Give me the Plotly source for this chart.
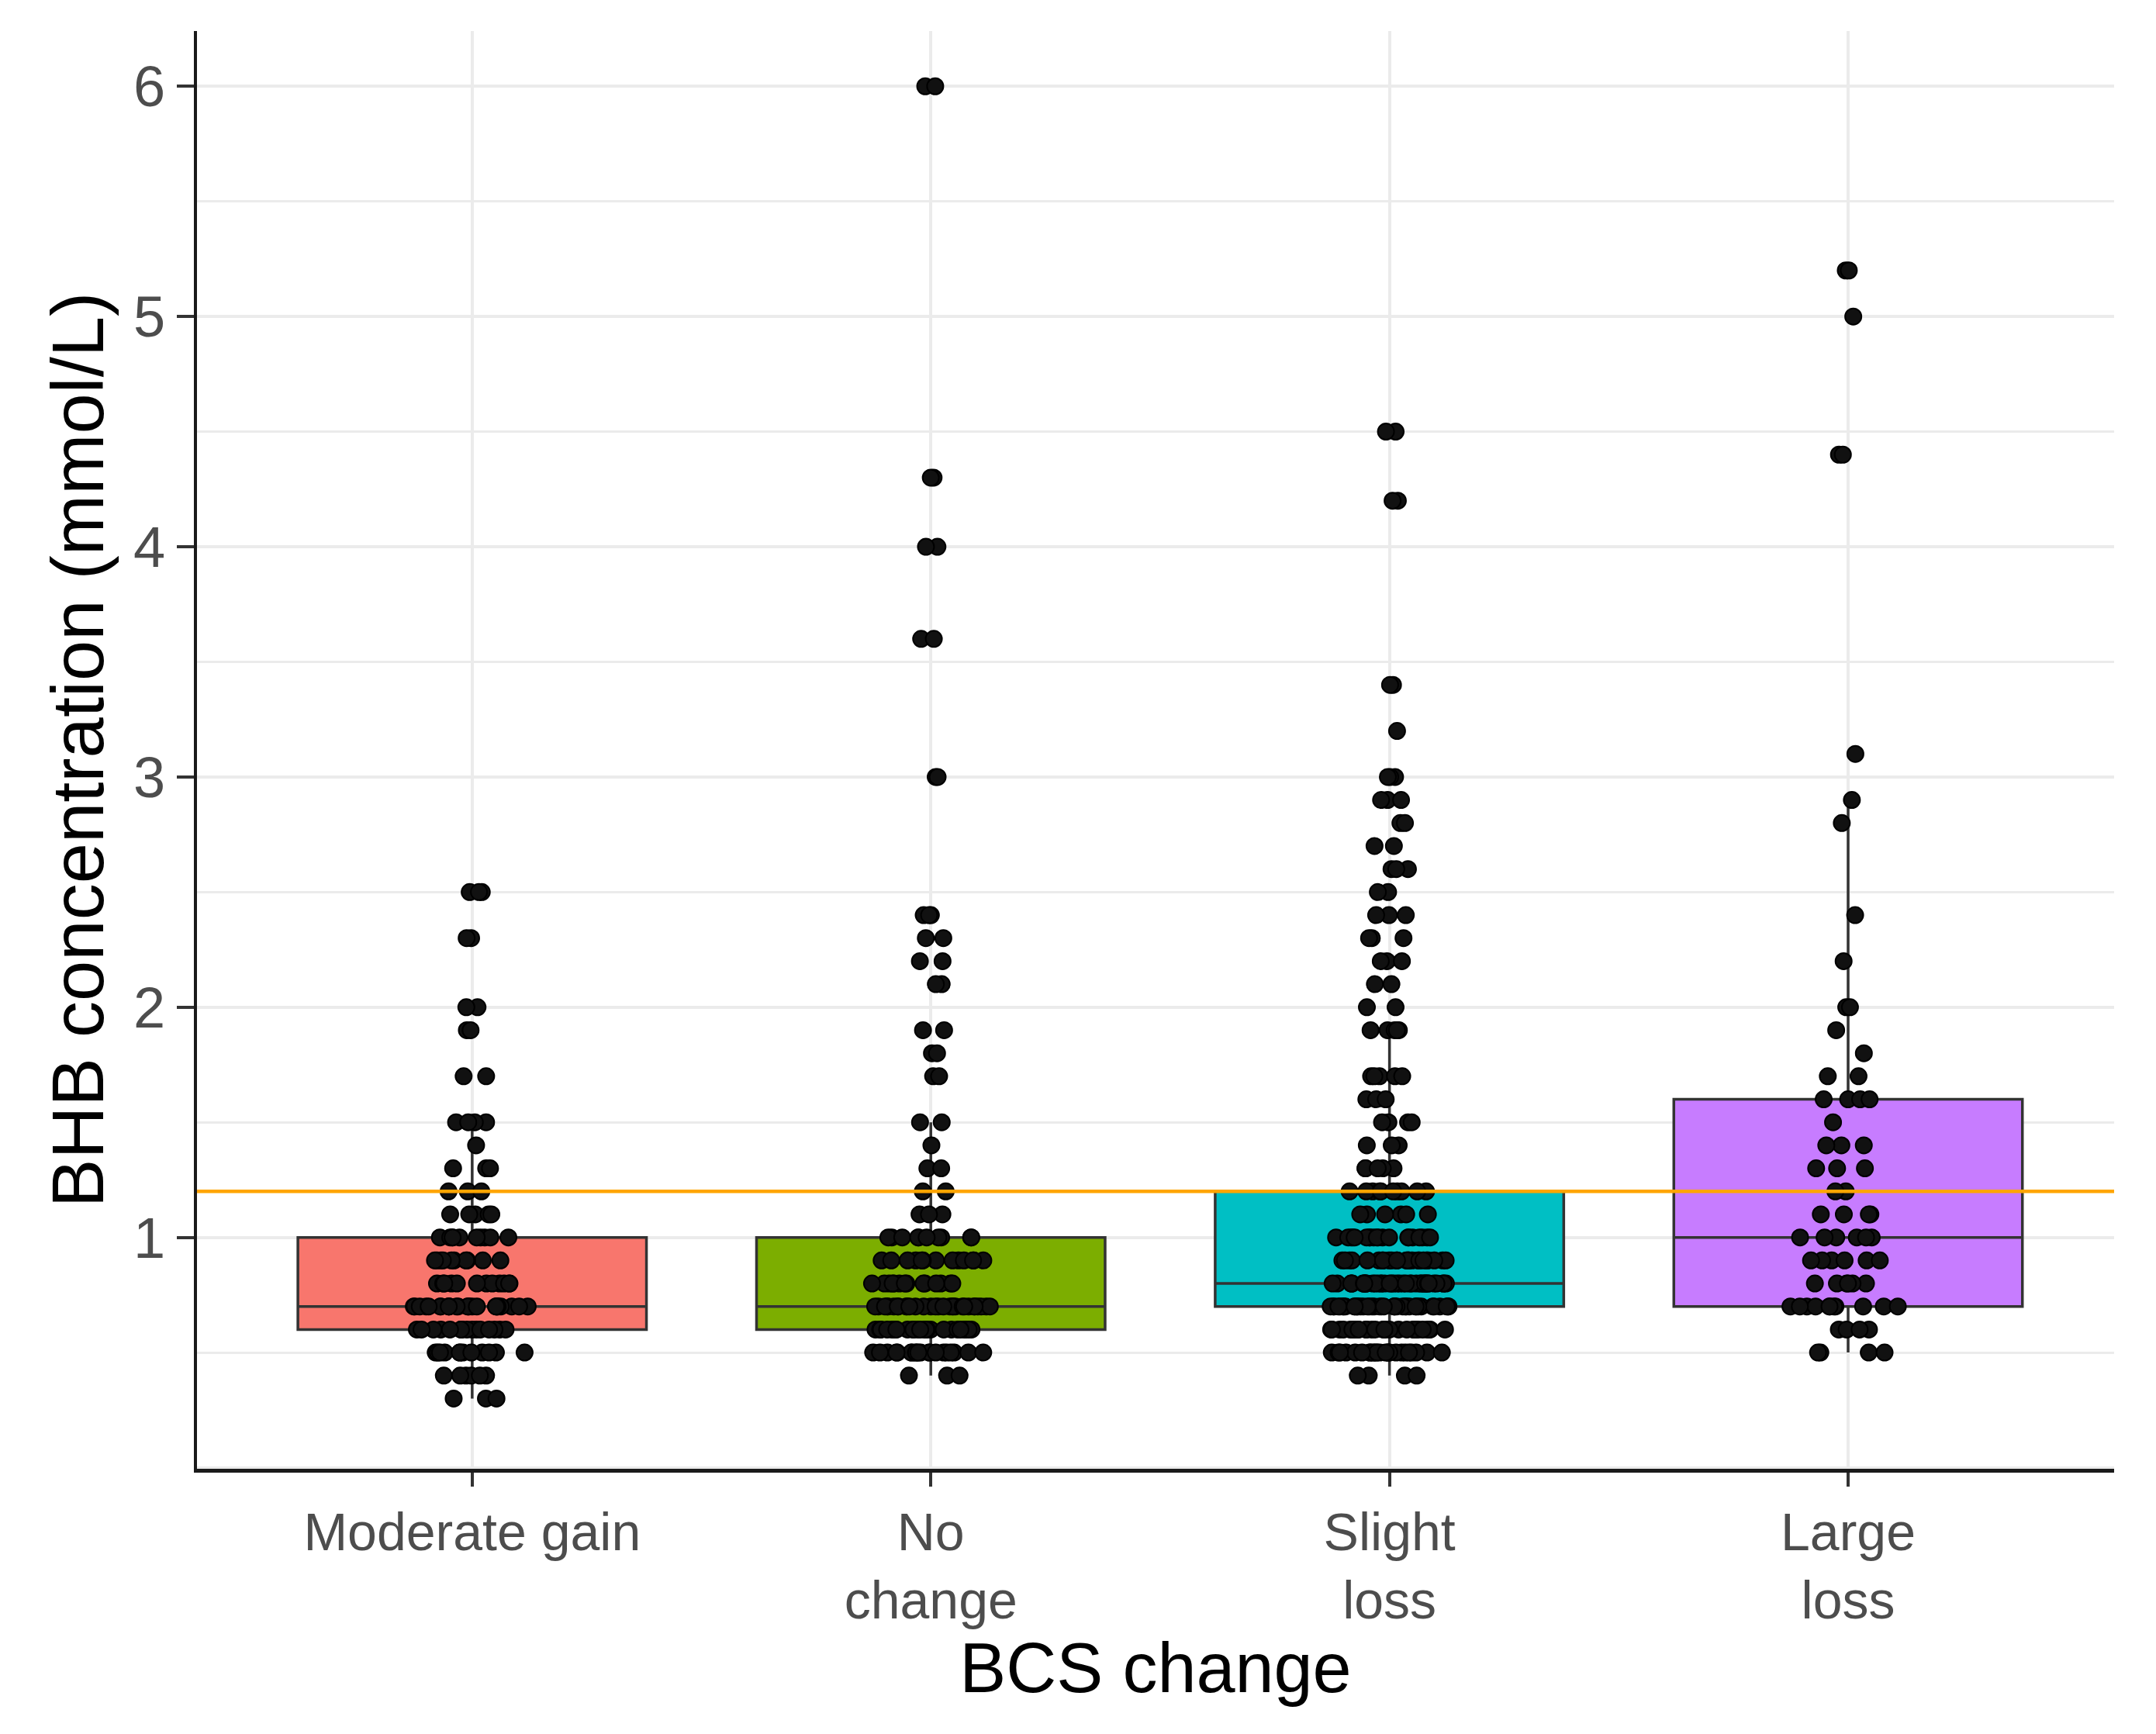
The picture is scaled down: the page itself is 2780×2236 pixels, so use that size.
import numpy as np
import plotly.graph_objects as go

# categories on the x axis (tick text uses <br> for the two-line labels)
categories = ["Moderate gain", "No<br>change", "Slight<br>loss", "Large<br>loss"]
box_colors = ["#F8766D", "#7CAE00", "#00BFC4", "#C77CFF"]

# BHB readings (mmol/L) and how many cows sit on each reading, per group
mod_gain_vals = [0.3, 0.4, 0.5, 0.6, 0.7, 0.8, 0.9, 1.0, 1.1, 1.2, 1.3, 1.4, 1.5, 1.7, 1.9, 2.0, 2.3, 2.5]
mod_gain_cnts = [3, 6, 12, 16, 26, 12, 10, 10, 5, 3, 3, 1, 4, 2, 2, 2, 2, 3]

no_change_vals = [0.4, 0.5, 0.6, 0.7, 0.8, 0.9, 1.0, 1.1, 1.2, 1.3, 1.4, 1.5, 1.7, 1.8, 1.9,
                  2.1, 2.2, 2.3, 2.4, 3.0, 3.6, 4.0, 4.3, 6.0]
no_change_cnts = [3, 20, 25, 30, 14, 13, 10, 3, 2, 2, 1, 2, 2, 2, 2,
                  2, 2, 2, 3, 2, 2, 2, 2, 2]

slight_loss_vals = [0.4, 0.5, 0.6, 0.7, 0.8, 0.9, 1.0, 1.1, 1.2, 1.3, 1.4, 1.5, 1.6, 1.7, 1.9,
                    2.0, 2.1, 2.2, 2.3, 2.4, 2.5, 2.6, 2.7, 2.8, 2.9, 3.0, 3.2, 3.4, 4.2, 4.5]
slight_loss_cnts = [4, 25, 30, 40, 40, 25, 20, 6, 10, 5, 3, 4, 3, 5, 5,
                    2, 2, 3, 3, 3, 2, 3, 2, 2, 3, 3, 1, 2, 2, 2]

large_loss_vals = [0.5, 0.6, 0.7, 0.8, 0.9, 1.0, 1.1, 1.2, 1.3, 1.4, 1.5, 1.6, 1.7, 1.8, 1.9,
                   2.0, 2.2, 2.4, 2.8, 2.9, 3.1, 4.4, 5.0, 5.2]
large_loss_cnts = [4, 4, 11, 6, 6, 6, 4, 2, 3, 3, 1, 4, 2, 1, 1,
                   2, 1, 1, 1, 1, 1, 2, 1, 2]

groups = [
    (mod_gain_vals, mod_gain_cnts),
    (no_change_vals, no_change_cnts),
    (slight_loss_vals, slight_loss_cnts),
    (large_loss_vals, large_loss_cnts),
]

y_ticks = [1, 2, 3, 4, 5, 6]
threshold = 1.2

font_family = "Liberation Sans, Arial, sans-serif"

fig = go.Figure()
for cat, col, (vals, cnts) in zip(categories, box_colors, groups):
    y = np.repeat(vals, cnts)
    fig.add_trace(go.Box(
        x=[cat] * len(y), y=y,
        fillcolor=col,
        line=dict(color="#333333", width=3.5),
        whiskerwidth=0,
        width=0.76,
        boxpoints="all", pointpos=0, jitter=0.34,
        marker=dict(color="#111111", size=21, line=dict(color="black", width=2)),
        showlegend=False,
    ))

# cut-off line for subclinical ketosis
fig.add_shape(type="line", xref="paper", x0=0, x1=1, yref="y", y0=threshold, y1=threshold,
              line=dict(color="#FFA500", width=4.5), layer="above")

fig.update_layout(
    width=2780, height=2236,
    paper_bgcolor="white", plot_bgcolor="white",
    margin=dict(l=246, r=62, t=32, b=350),
    font=dict(family=font_family),
    showlegend=False,
)
fig.update_xaxes(
    type="category", categoryorder="array", categoryarray=categories,
    range=[-0.6, 3.58],
    showgrid=True, gridcolor="#EBEBEB", gridwidth=4,
    showline=True, linecolor="#1a1a1a", linewidth=5,
    ticks="outside", ticklen=18, tickwidth=4, tickcolor="#333333",
    tickfont=dict(size=68, color="#4D4D4D", family=font_family),
    title=dict(text="BCS change", font=dict(size=90, color="black", family=font_family), standoff=8),
    zeroline=False,
)
fig.update_yaxes(
    range=[-0.005, 6.24],
    tickvals=y_ticks,
    showgrid=True, gridcolor="#EBEBEB", gridwidth=4,
    minor=dict(dtick=0.5, tick0=0, showgrid=True, gridcolor="#EBEBEB", gridwidth=3, ticks=""),
    showline=True, linecolor="#1a1a1a", linewidth=4,
    ticks="outside", ticklen=22, tickwidth=4, tickcolor="#333333",
    tickfont=dict(size=74, color="#4D4D4D", family=font_family),
    title=dict(text="BHB concentration (mmol/L)", font=dict(size=94, color="black", family=font_family), standoff=8),
    zeroline=False,
)

fig.write_html("out.html")
